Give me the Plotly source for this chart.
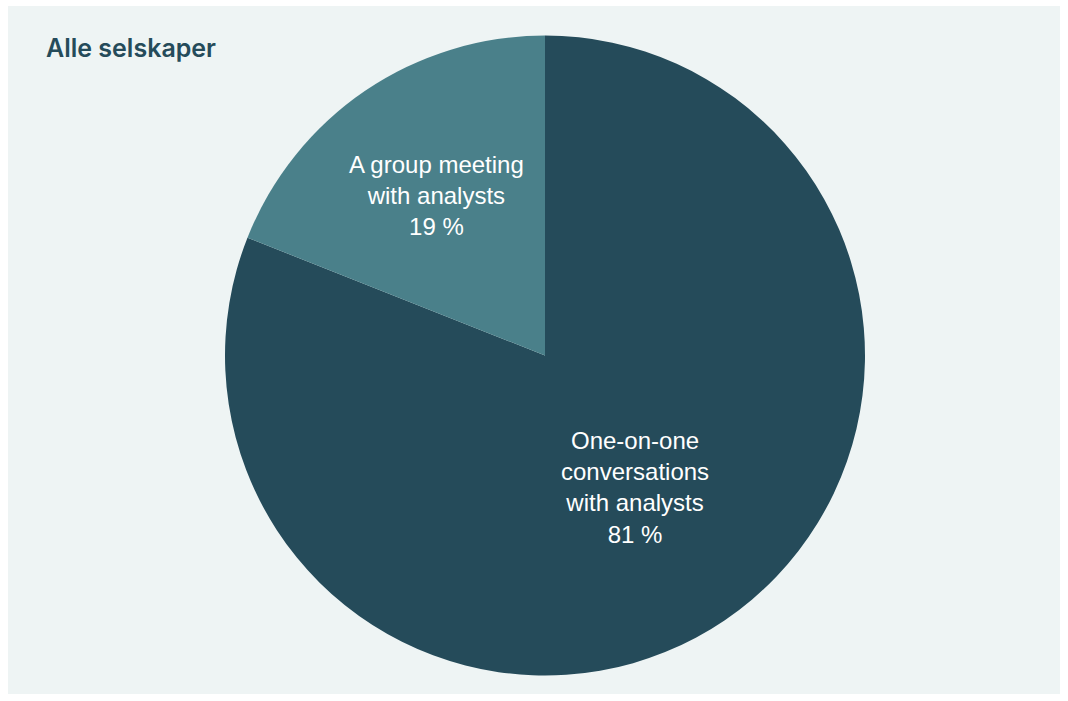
import math
import plotly.graph_objects as go

# Share of companies by type of analyst meeting
labels = ["One-on-one<br>conversations<br>with analysts", "A group meeting<br>with analysts"]
shares = [81, 19]
colors = ["#254B5A", "#4A808A"]
title = "Alle selskaper"

W, H = 1068, 701
ml, mr, mt, mb = 8, 8, 6, 7
pw, ph = W - ml - mr, H - mt - mb

# Pie bounding box in pixels
cx, cy, r = 545, 355.5, 320
dom_x = [(cx - r - ml) / pw, (cx + r - ml) / pw]
dom_y = [1 - (cy + r - mt) / ph, 1 - (cy - r - mt) / ph]

fig = go.Figure(
    go.Pie(
        labels=labels,
        values=shares,
        marker=dict(colors=colors, line=dict(width=0)),
        sort=False,
        direction="clockwise",
        rotation=0,
        textinfo="none",
        hoverinfo="skip",
        showlegend=False,
        domain=dict(x=dom_x, y=dom_y),
    )
)

# Slice labels placed along each slice's middle angle (clockwise from 12 o'clock)
label_radius = [0.50, 0.605]
annotations = []
total = sum(shares)
start = 0.0
for lab, val, rf in zip(labels, shares, label_radius):
    sweep = 360.0 * val / total
    mid = math.radians(start + sweep / 2)
    start += sweep
    px = cx + rf * r * math.sin(mid)
    py = cy - rf * r * math.cos(mid)
    annotations.append(dict(
        text=f"{lab}<br>{val} %", xref="paper", yref="paper",
        x=(px - ml) / pw, y=1 - (py - mt) / ph, xanchor="center", yanchor="middle",
        showarrow=False, align="center",
        font=dict(family="Liberation Sans", size=24, color="white"),
    ))

annotations.append(dict(
    text=title, xref="paper", yref="paper",
    x=(44 - ml) / pw, y=1 - (31 - mt) / ph, xanchor="left", yanchor="top",
    showarrow=False,
    font=dict(family="Inter", size=25, weight=600, color="#254B5A"),
))

fig.update_layout(
    width=W,
    height=H,
    margin=dict(l=ml, r=mr, t=mt, b=mb),
    paper_bgcolor="white",
    shapes=[
        dict(type="rect", xref="paper", yref="paper", x0=0, x1=1, y0=0, y1=1,
             fillcolor="#EEF4F4", line=dict(width=0), layer="below")
    ],
    annotations=annotations,
)

fig.write_html("out.html")
